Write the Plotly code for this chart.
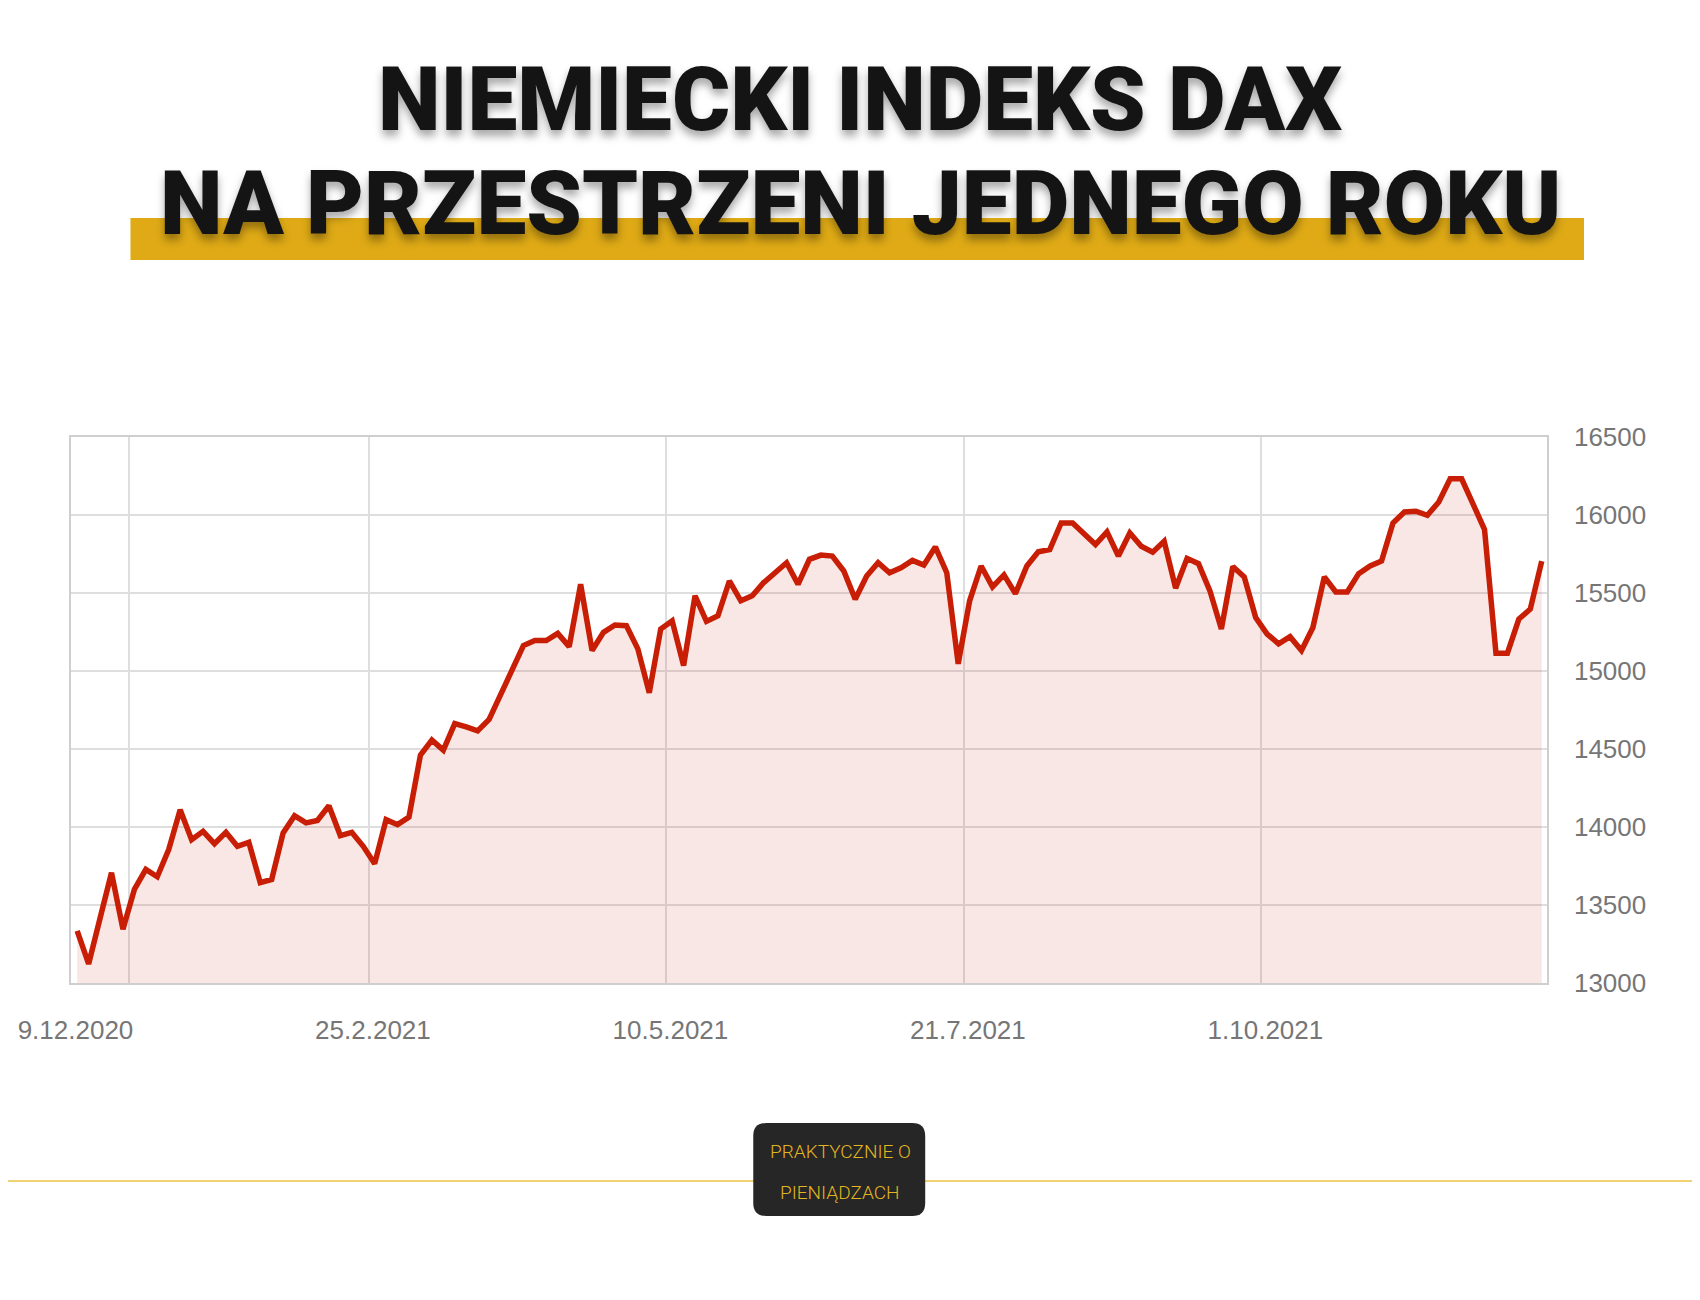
import plotly.graph_objects as go

# ---- data ----
dax_close = [13334, 13122, 13415, 13707, 13345, 13600, 13728, 13681, 13855, 14110,
             13919, 13972, 13893, 13966, 13876, 13902, 13643, 13664, 13962, 14072,
             14026, 14042, 14136, 13945, 13966, 13876, 13765, 14047, 14015, 14064,
             14461, 14557, 14493, 14663, 14642, 14616, 14689, 14844, 15003, 15163,
             15195, 15195, 15241, 15156, 15556, 15131, 15248, 15295, 15290, 15142,
             14860, 15269, 15322, 15035, 15482, 15318, 15354, 15577, 15450, 15482,
             15567, 15630, 15694, 15556, 15716, 15743, 15737, 15641, 15460, 15609,
             15694, 15630, 15662, 15709, 15679, 15795, 15630, 15046, 15450, 15673,
             15539, 15616, 15496, 15673, 15764, 15779, 15949, 15949, 15879, 15811,
             15892, 15737, 15885, 15800, 15762, 15832, 15531, 15722, 15688, 15514,
             15269, 15670, 15603, 15343, 15237, 15174, 15220, 15131, 15279, 15603,
             15507, 15507, 15624, 15673, 15705, 15949, 16019, 16024, 15998, 16083,
             16232, 16232, 16070, 15907, 15114, 15114, 15333, 15397, 15705]
session_index = list(range(len(dax_close)))

x_tick_positions = [-0.5, 4.5, 25.5, 51.5, 77.5, 103.5]
x_tick_labels = ["9.12.2020", "", "25.2.2021", "10.5.2021", "21.7.2021", "1.10.2021"]
y_tick_values = [13000, 13500, 14000, 14500, 15000, 15500, 16000, 16500]

title_line1 = "NIEMIECKI INDEKS DAX"
title_line2 = "NA PRZESTRZENI JEDNEGO ROKU"
logo_line1 = "PRAKTYCZNIE O"
logo_line2 = "PIENIĄDZACH"

# ---- figure geometry (page pixels; the page body has an 8px margin) ----
OFF = 8
W, H = 1700 - 2 * OFF, 1300 - 2 * OFF
PLOT_L, PLOT_R, PLOT_T, PLOT_B = 70.5, 1547, 437, 983
ML = PLOT_L - OFF
MR = W - (PLOT_R - OFF)
MT = PLOT_T - OFF
MB = H - (PLOT_B - OFF)
PW = W - ML - MR
PH = H - MT - MB


def px_x(p):
    return (p - PLOT_L) / PW


def px_y(p):
    return (PLOT_B - p) / PH


fig = go.Figure()
fig.add_trace(go.Scatter(
    x=session_index, y=dax_close, mode="lines",
    line=dict(color="#c81e05", width=5.5),
    fill="tozeroy", fillcolor="rgba(200,40,20,0.11)",
    hoverinfo="skip", showlegend=False,
))

title_font = dict(family="Roboto, DejaVu Sans Condensed, sans-serif",
                  size=89, color="#141414", weight=900,
                  shadow="0px 6px 8px rgba(0,0,0,0.35)")
logo_font = dict(family="Roboto, sans-serif", size=19, color="#E3B51E", weight=300)

annotations = [
    dict(text=title_line1, x=px_x(860), y=px_y(99), xref="paper", yref="paper",
         xanchor="center", yanchor="middle", showarrow=False, font=title_font),
    dict(text=title_line2, x=px_x(860), y=px_y(204), xref="paper", yref="paper",
         xanchor="center", yanchor="middle", showarrow=False, font=title_font),
    dict(text=logo_line1, x=px_x(840), y=px_y(1151), xref="paper", yref="paper",
         xanchor="center", yanchor="middle", showarrow=False, font=logo_font),
    dict(text=logo_line2, x=px_x(839), y=px_y(1192), xref="paper", yref="paper",
         xanchor="center", yanchor="middle", showarrow=False, font=logo_font),
]


def rounded_rect(x0p, y0p, x1p, y1p, r):
    rx = r / PW
    ry = r / PH
    X0, X1 = px_x(x0p), px_x(x1p)
    Yt, Yb = px_y(y0p), px_y(y1p)
    return (f"M {X0+rx},{Yt} L {X1-rx},{Yt} Q {X1},{Yt} {X1},{Yt-ry} "
            f"L {X1},{Yb+ry} Q {X1},{Yb} {X1-rx},{Yb} L {X0+rx},{Yb} "
            f"Q {X0},{Yb} {X0},{Yb+ry} L {X0},{Yt-ry} Q {X0},{Yt} {X0+rx},{Yt} Z")


shapes = [
    dict(type="rect", xref="paper", yref="paper",
         x0=px_x(130), x1=px_x(1584), y0=px_y(260), y1=px_y(218),
         fillcolor="#DFAA16", line=dict(width=0), layer="above"),
    dict(type="line", xref="paper", yref="paper",
         x0=px_x(0), x1=px_x(1700), y0=px_y(1181), y1=px_y(1181),
         line=dict(color="#EBC343", width=1.5), layer="above"),
    dict(type="path", xref="paper", yref="paper",
         path=rounded_rect(753, 1123, 925, 1216, 13),
         fillcolor="#262626", line=dict(width=0), layer="above"),
]

tick_font = dict(family="Liberation Sans, Arial, sans-serif", size=26, color="#767676")

fig.update_layout(
    width=W, height=H,
    margin=dict(l=ML, r=MR, t=MT, b=MB, pad=0, autoexpand=False),
    paper_bgcolor="white", plot_bgcolor="white",
    annotations=annotations, shapes=shapes,
    xaxis=dict(range=[-0.54, 128.46], tickmode="array",
               tickvals=x_tick_positions, ticktext=x_tick_labels,
               showgrid=True, gridcolor="#dedede", gridwidth=1.5,
               showline=True, mirror=True, linecolor="#cfcfcf", linewidth=1.5,
               zeroline=False, ticks="", tickfont=tick_font, automargin=False,
               ticklabelstandoff=23, ticklabelshift=4, fixedrange=True),
    yaxis=dict(range=[13000, 16500], side="right", tickmode="array",
               tickvals=y_tick_values, ticktext=[str(v) for v in y_tick_values],
               showgrid=True, gridcolor="#dedede", gridwidth=1.5,
               showline=True, mirror=True, linecolor="#cfcfcf", linewidth=1.5,
               zeroline=False, ticks="", tickfont=tick_font, automargin=False,
               ticklabelstandoff=20, fixedrange=True),
)

fig.write_html("out.html")
